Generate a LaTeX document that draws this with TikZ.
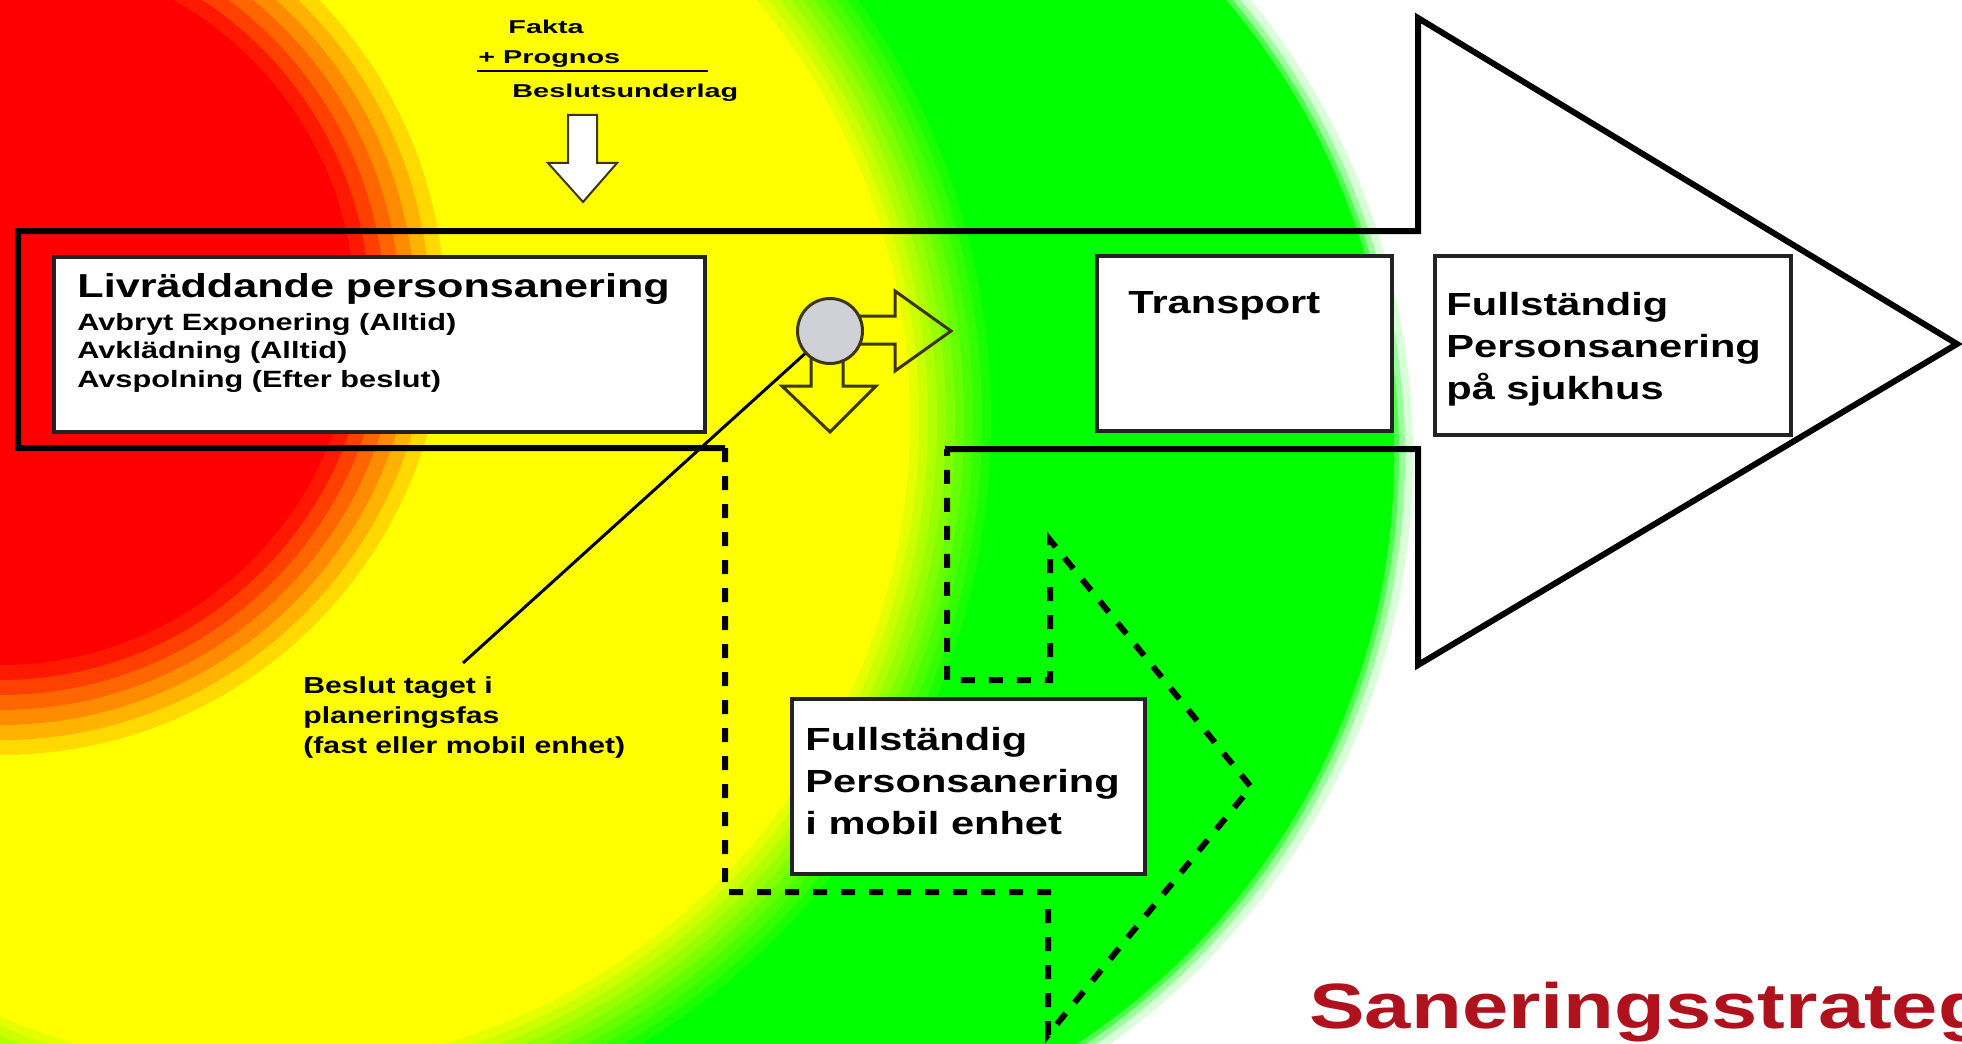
\documentclass[tikz,border=0pt]{standalone}
\usepackage{fontspec}
\setmainfont{Liberation Sans}[FakeStretch=1.3]
\newfontfamily\widefont{Liberation Sans}[FakeStretch=1.55]
\definecolor{zred}{RGB}{255,0,0}
\definecolor{zyellow}{RGB}{255,255,0}
\definecolor{zgreen}{RGB}{0,255,0}
\definecolor{zwhite}{RGB}{255,255,255}
\definecolor{boxline}{RGB}{35,35,35}
\definecolor{outl}{RGB}{60,55,15}
\definecolor{dotgray}{RGB}{208,208,216}
\definecolor{titlered}{RGB}{175,18,28}
\newcommand{\bigf}{\fontsize{16}{21}\selectfont\bfseries}
\newcommand{\titlef}{\fontsize{16.6}{21}\selectfont\bfseries}
\newcommand{\midf}{\fontsize{11.8}{14.2}\selectfont\bfseries}
\newcommand{\smallf}{\fontsize{11.6}{15}\selectfont\bfseries}
\newcommand{\faktaf}{\widefont\fontsize{9.3}{15}\selectfont\bfseries}
\begin{document}
\begin{tikzpicture}[x=0.5pt,y=0.5pt,yscale=-1,
  box/.style={draw=boxline, line width=2pt, fill=white, inner sep=0pt, anchor=north west},
  lbl/.style={anchor=north west, align=left, inner sep=0pt, text=black},
  outline/.style={line width=3pt, line join=miter},
  dashline/.style={line width=3pt, dash pattern=on 7pt off 7pt},
  smallarrow/.style={draw=outl, line width=1.5pt, line join=miter},
  inarrow/.style={draw=outl, fill=white, line width=1pt, line join=miter},
  dot/.style={circle, fill=dotgray, draw=outl, line width=1.5pt, minimum size=32.5pt, inner sep=0pt}]
\useasboundingbox (0,0) rectangle (1962,1043);
\clip (0,0) rectangle (1962,1043);
%background zones
\fill[zwhite] (0,0) rectangle (1962,1043);
\foreach \r/\c in {722/15,714/40,708/70,703/100}
  \fill[zgreen!\c!zwhite] (691,456) circle (\r);
\foreach \i in {0,...,9}
  \fill[zyellow!\the\numexpr\i*10\relax!zgreen] (260,420) circle ({740-9*\i});
\fill[zyellow] (260,420) circle (650);
\foreach \r/\c in {445/15,430/30,415/45,400/60,385/75,370/90}
  \fill[zred!\c!zyellow] (0,310) circle (\r);
\fill[zred] (0,310) circle (355);
%main arrow
\draw[outline] (725,448) -- (18,448) -- (18,231) -- (1418,231) -- (1418,18) -- (1957,344) -- (1418,665) -- (1418,449) -- (945,449);
\draw[dashline] (725,448) -- (725,892) -- (1048,892) -- (1048,1035) -- (1251,787) -- (1050,540) -- (1050,680) -- (947,680) -- (947,449);
%boxes
\node[box, minimum width=325.5pt, minimum height=87.5pt] (livr) at (52,255) {};
\node[box, minimum width=147.5pt, minimum height=87.5pt] (trans) at (1095,254) {};
\node[box, minimum width=178pt, minimum height=89.5pt] (sjuk) at (1433,254) {};
\node[box, minimum width=176.5pt, minimum height=87.5pt] (mobil) at (790,697) {};
\node[lbl, font=\titlef] (livr-title) at (77,273) {Livräddande personsanering};
\node[lbl, font=\midf] (livr-steps) at (77,313) {Avbryt Exponering (Alltid)\\Avklädning (Alltid)\\Avspolning (Efter beslut)};
\node[lbl, font=\bigf] (trans-txt) at (1128,291) {Transport};
\node[lbl, font=\bigf] (sjuk-txt) at (1446,292) {Fullständig\\Personsanering\\på sjukhus};
\node[lbl, font=\bigf] (mobil-txt) at (805,727) {Fullständig\\Personsanering\\i mobil enhet};
%decision input
\node[lbl, font=\faktaf] (fakta) at (508,20) {Fakta};
\node[lbl, font=\faktaf] (prognos) at (478,50) {+ Prognos};
\draw[line width=1pt] (477,71) -- (708,71);
\node[lbl, font=\faktaf] (underlag) at (512,84) {Beslutsunderlag};
\draw[inarrow] (568,115) -- (597,115) -- (597,163) -- (617,163) -- (583,202) -- (548,163) -- (568,163) -- cycle;
%decision point
\draw[smallarrow] (855,316) -- (895,316) -- (895,291) -- (951,331) -- (895,371) -- (895,344) -- (855,344);
\draw[smallarrow] (811,355) -- (811,386) -- (782,386) -- (830,432) -- (876,386) -- (843,386) -- (843,355);
\node[dot] (dot) at (830,331) {};
\node[lbl, font=\smallf] (beslut) at (303,676) {Beslut taget i\\planeringsfas\\(fast eller mobil enhet)};
\coordinate (beslut-end) at (463,663);
\draw[line width=1.5pt] (dot) -- (beslut-end);
\node[anchor=base west, inner sep=0pt, text=titlered, font=\fontsize{32}{38}\selectfont\bfseries] (title) at (1309,1028) {Saneringsstrategi};
\end{tikzpicture}
\end{document}
